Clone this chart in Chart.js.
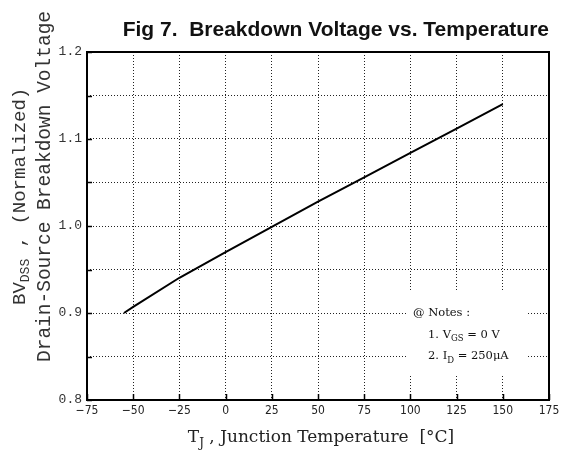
<!DOCTYPE html>
<html><head><meta charset="utf-8">
<script src="https://cdn.jsdelivr.net/npm/chart.js@4.4.0/dist/chart.umd.min.js"></script>
<style>html,body{margin:0;padding:0;background:#fff;}</style>
</head><body>
<canvas id="c" width="564" height="455" style="width:564px;height:455px;display:block"></canvas>
<script>
// ---- data ----
const temperatures = [-55, -50, -25, 0, 25, 50, 75, 100, 125, 150];
const bvNormalized = [0.900, 0.907, 0.9405, 0.970, 0.999, 1.028, 1.056, 1.084, 1.112, 1.140];
const xTickValues = [-75, -50, -25, 0, 25, 50, 75, 100, 125, 150, 175];
const yTickValues = [0.80, 0.85, 0.90, 0.95, 1.00, 1.05, 1.10, 1.15, 1.20];
const yLabelValues = [0.8, 0.9, 1.0, 1.1, 1.2];
const titleText = 'Fig 7.  Breakdown Voltage vs. Temperature';
const noteLines = ['@ Notes :', '1. V|GS| = 0 V', '2. I|D| = 250\u03bcA'];

const MONO = "'Liberation Mono', 'Courier New', monospace";
const SERIF = "'DejaVu Serif', serif";

function drawRuns(ctx, runs, x, y) {
  let cx = x;
  for (const r of runs) {
    ctx.font = r.font;
    ctx.fillText(r.t, cx, y + (r.dy || 0));
    cx += ctx.measureText(r.t).width;
  }
  return cx - x;
}
function runsWidth(ctx, runs) {
  let w = 0;
  for (const r of runs) { ctx.font = r.font; w += ctx.measureText(r.t).width; }
  return w;
}
function noteRuns(line, size) {
  const parts = line.split('|');
  return parts.map((t, i) => i % 2 === 1
    ? { t, font: `${size - 3}px ${SERIF}`, dy: 4 }
    : { t, font: `${size}px ${SERIF}` });
}

const decor = {
  id: 'decor',
  beforeDatasetsDraw(chart) {
    const { ctx, chartArea: a } = chart;
    ctx.save();
    ctx.fillStyle = '#fff';
    ctx.fillRect(a.left + 320, a.top + 239, 120, 83);
    ctx.restore();
  },
  afterDraw(chart) {
    const { ctx, chartArea: a, scales } = chart;
    const xs = scales.x, ys = scales.y;
    ctx.save();
    // inner ticks
    ctx.strokeStyle = '#000';
    ctx.lineWidth = 1.5;
    ctx.beginPath();
    xTickValues.forEach(v => {
      const px = Math.round(xs.getPixelForValue(v)) + 0.5;
      ctx.moveTo(px, a.bottom); ctx.lineTo(px, a.bottom - 6);
    });
    yTickValues.forEach(v => {
      const py = Math.round(ys.getPixelForValue(v)) + 0.5;
      ctx.moveTo(a.left, py); ctx.lineTo(a.left + 5, py);
    });
    ctx.stroke();
    // frame
    ctx.lineWidth = 2;
    ctx.strokeRect(a.left, a.top, a.right - a.left, a.bottom - a.top);

    // y-axis titles (rotated)
    ctx.fillStyle = '#333';
    ctx.textBaseline = 'alphabetic';
    ctx.textAlign = 'left';
    ctx.save();
    ctx.translate(25, 305);
    ctx.rotate(-Math.PI / 2);
    drawRuns(ctx, [
      { t: 'BV', font: `19px ${MONO}` },
      { t: 'DSS', font: `13px ${MONO}`, dy: 4 },
      { t: ' , (Normalized)', font: `19px ${MONO}` }
    ], 0, 0);
    ctx.restore();
    ctx.save();
    ctx.translate(50, 362);
    ctx.rotate(-Math.PI / 2);
    drawRuns(ctx, [{ t: 'Drain-Source Breakdown Voltage', font: `19.5px ${MONO}` }], 0, 0);
    ctx.restore();

    // x-axis title
    ctx.fillStyle = '#222';
    const xr = [
      { t: 'T', font: `17px ${SERIF}` },
      { t: 'J', font: `12px ${SERIF}`, dy: 5 },
      { t: ' , Junction Temperature  [\u00b0C]', font: `17px ${SERIF}` }
    ];
    const w = runsWidth(ctx, xr);
    drawRuns(ctx, xr, 321 - w / 2, 442);

    // notes
    ctx.fillStyle = '#111';
    ctx.textBaseline = 'middle';
    const y90 = ys.getPixelForValue(0.9), y85 = ys.getPixelForValue(0.85);
    drawRuns(ctx, noteRuns(noteLines[0], 11.5), a.left + 326, y90);
    drawRuns(ctx, noteRuns(noteLines[1], 11.5), a.left + 341, (y90 + y85) / 2);
    drawRuns(ctx, noteRuns(noteLines[2], 11.5), a.left + 341, y85);
    ctx.restore();
  }
};

new Chart(document.getElementById('c'), {
  type: 'line',
  data: {
    datasets: [{
      data: temperatures.map((t, i) => ({ x: t, y: bvNormalized[i] })),
      borderColor: '#000',
      borderWidth: 2,
      pointRadius: 0,
      tension: 0,
      fill: false
    }]
  },
  options: {
    responsive: false,
    animation: false,
    devicePixelRatio: 1,
    layout: { padding: { left: 0, right: 15, top: 0, bottom: 0 } },
    plugins: {
      legend: { display: false },
      tooltip: { enabled: false },
      title: {
        display: true,
        text: titleText,
        align: 'end',
        color: '#111',
        font: { family: "'Liberation Sans', Arial, sans-serif", weight: 'bold', size: 21 },
        padding: { top: 17.4, bottom: 9.4 }
      }
    },
    scales: {
      x: {
        type: 'linear',
        min: -75, max: 175,
        afterBuildTicks: s => { s.ticks = xTickValues.map(v => ({ value: v })); },
        afterFit: s => { s.height = 55; },
        ticks: {
          autoSkip: false, maxRotation: 0, padding: 4,
          color: '#222',
          font: { family: "'DejaVu Sans Condensed', 'DejaVu Sans', sans-serif", size: 12 },
          callback: v => v < 0 ? '\u2212' + Math.abs(v) : String(v)
        },
        grid: { color: '#222', lineWidth: 1, drawTicks: false },
        border: { display: false, dash: [1, 2] }
      },
      y: {
        type: 'linear',
        min: 0.8, max: 1.2,
        afterBuildTicks: s => { s.ticks = yTickValues.map(v => ({ value: v })); },
        afterFit: s => { s.width = 87; },
        ticks: {
          autoSkip: false, padding: 5,
          color: '#333',
          font: { family: MONO, size: 13 },
          callback: v => yLabelValues.some(l => Math.abs(l - v) < 1e-6) ? v.toFixed(1) : ''
        },
        grid: { color: '#222', lineWidth: 1, drawTicks: false },
        border: { display: false, dash: [1, 2] }
      }
    }
  },
  plugins: [decor]
});
</script>
</body></html>
